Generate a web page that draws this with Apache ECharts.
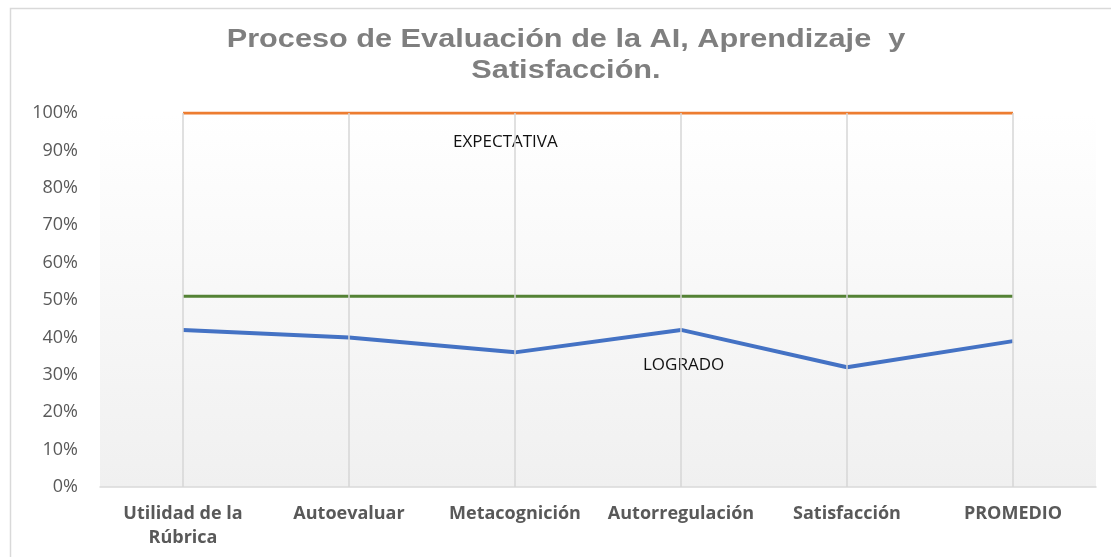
<!DOCTYPE html>
<html>
<head>
<meta charset="utf-8">
<script src="https://cdn.jsdelivr.net/npm/echarts@6/dist/echarts.min.js"></script>
<style>
  html, body { margin: 0; padding: 0; background: #fff; }
  #chart { width: 1111px; height: 557px; }
</style>
</head>
<body>
<div id="chart"></div>
<script>
var titleLines = ["Proceso de Evaluación de la AI, Aprendizaje  y", "Satisfacción."];
var categories = ["Utilidad de la\nRúbrica", "Autoevaluar", "Metacognición", "Autorregulación", "Satisfacción", "PROMEDIO"];
var expectativa = [100, 100, 100, 100, 100, 100];
var meta = [51, 51, 51, 51, 51, 51];
var logrado = [42, 40, 36, 42, 32, 39];
var yTicks = { min: 0, max: 100, interval: 10 };

var chart = echarts.init(document.getElementById("chart"));

// the title in the picture is a bit stretched sideways, so scale it
var titleStyle = {
  fontFamily: "Liberation Sans",
  fontSize: 26,
  fontWeight: "bold",
  fill: "#7f7f7f",
  align: "center",
  verticalAlign: "middle"
};

var option = {
  backgroundColor: "#fff",
  animation: false,
  grid: {
    left: 100,
    right: 15,
    top: 113,
    bottom: 70,
    show: true,
    borderWidth: 0,
    backgroundColor: {
      type: "linear", x: 0, y: 0, x2: 0, y2: 1,
      colorStops: [
        { offset: 0, color: "#ffffff" },
        { offset: 1, color: "#f0f0f0" }
      ]
    }
  },
  xAxis: {
    type: "category",
    data: categories,
    boundaryGap: true,
    axisLine: { lineStyle: { color: "#d9d9d9", width: 1.5 } },
    axisTick: { show: false },
    axisLabel: {
      margin: 15,
      fontFamily: "Open Sans",
      fontWeight: "bold",
      fontSize: 18,
      color: "#595959",
      lineHeight: 24,
      interval: 0
    },
    splitLine: { show: false }
  },
  yAxis: {
    type: "value",
    min: yTicks.min,
    max: yTicks.max,
    interval: yTicks.interval,
    axisLine: { show: false },
    axisTick: { show: false },
    splitLine: { show: false },
    axisLabel: {
      formatter: "{value}%",
      margin: 22,
      fontFamily: "Open Sans",
      fontSize: 18,
      color: "#595959"
    }
  },
  series: [
    {
      name: "drop",
      type: "line",
      data: [],
      z: 1,
      silent: true,
      markLine: {
        silent: true,
        symbol: "none",
        label: { show: false },
        lineStyle: { color: "#d6d6d6", width: 1.5, type: "solid" },
        data: categories.map(function (c) { return { xAxis: c }; })
      }
    },
    {
      name: "EXPECTATIVA",
      type: "line",
      data: expectativa,
      symbol: "none",
      z: 3,
      lineStyle: { color: "#ed7d31", width: 3 }
    },
    {
      name: "META",
      type: "line",
      data: meta,
      symbol: "none",
      z: 3,
      lineStyle: { color: "#548235", width: 3 }
    },
    {
      name: "LOGRADO",
      type: "line",
      data: logrado,
      symbol: "none",
      z: 4,
      lineStyle: { color: "#4472c4", width: 4 }
    }
  ],
  graphic: [
    {
      type: "rect",
      shape: { x: 10.5, y: 8.5, width: 1130, height: 580 },
      style: { fill: "none", stroke: "#d9d9d9", lineWidth: 1.5 },
      silent: true
    },
    {
      type: "text",
      x: 566,
      y: 40,
      scaleX: 1.18,
      style: Object.assign({ text: titleLines[0] }, titleStyle)
    },
    {
      type: "text",
      x: 566,
      y: 71,
      scaleX: 1.18,
      style: Object.assign({ text: titleLines[1] }, titleStyle)
    },
    {
      type: "text",
      left: 453,
      top: 134,
      style: { text: "EXPECTATIVA", fontFamily: "Open Sans", fontSize: 17, fill: "#111" }
    },
    {
      type: "text",
      left: 643,
      top: 357,
      style: { text: "LOGRADO", fontFamily: "Open Sans", fontSize: 17, fill: "#111" }
    }
  ]
};

chart.setOption(option);
</script>
</body>
</html>
